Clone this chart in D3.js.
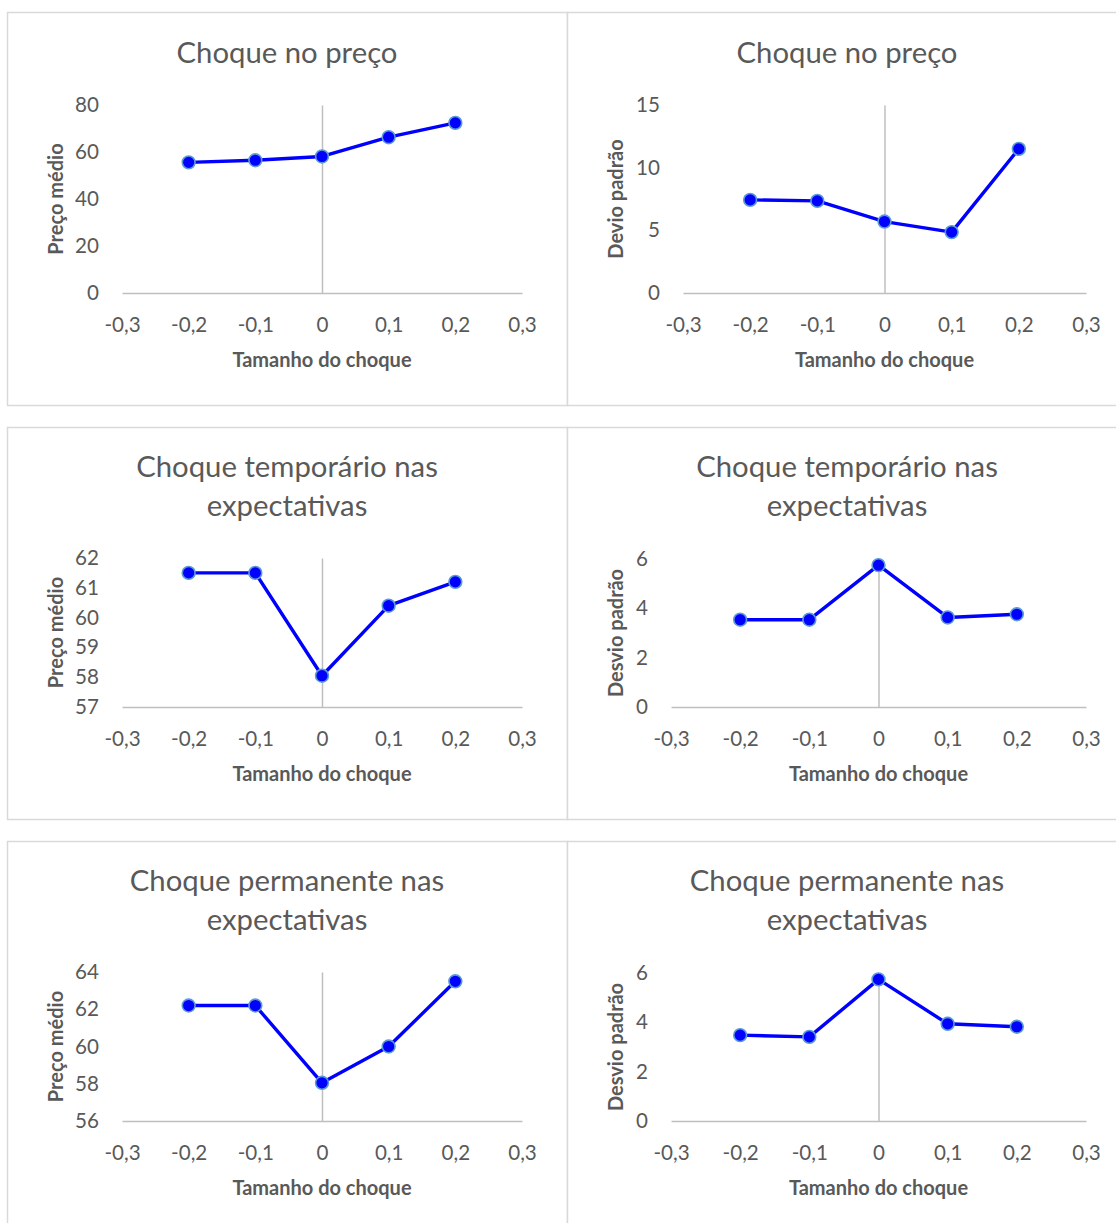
<!DOCTYPE html>
<html>
<head>
<meta charset="utf-8">
<script src="https://cdn.jsdelivr.net/npm/d3@7"></script>
<style>
  html, body { margin: 0; padding: 0; background: #fff; }
  svg { display: block; }
  text { font-family: Lato, "Open Sans", sans-serif; fill: #595959; }
</style>
</head>
<body>
<svg id="chart" width="1116" height="1223"></svg>
<script>
// ---- data ----
const shockSizes = [-0.2, -0.1, 0, 0.1, 0.2];
const xTickValues = [-0.3, -0.2, -0.1, 0, 0.1, 0.2, 0.3];

const precoChoquePreco = [55.6, 56.5, 58.1, 66.3, 72.4];
const devioChoquePreco = [7.43, 7.35, 5.7, 4.86, 11.5];
const precoTemporario = [61.5, 61.5, 58.05, 60.4, 61.2];
const devioTemporario = [3.54, 3.54, 5.75, 3.63, 3.76];
const precoPermanente = [62.2, 62.2, 58.05, 60.0, 63.5];
const devioPermanente = [3.48, 3.41, 5.74, 3.94, 3.82];

const yTicksPrecoChoque = [0, 20, 40, 60, 80];
const yTicksDevioChoque = [0, 5, 10, 15];
const yTicksPrecoTemp = [57, 58, 59, 60, 61, 62];
const yTicksDevio6 = [0, 2, 4, 6];
const yTicksPrecoPerm = [56, 58, 60, 62, 64];

const titleChoquePreco = ["Choque no preço"];
const titleTemporario = ["Choque temporário nas", "expectativas"];
const titlePermanente = ["Choque permanente nas", "expectativas"];
const yLabelPreco = "Preço médio";
const yLabelDevio = "Desvio padrão";
const yLabelDevioTop = "Devio padrão";
const xLabel = "Tamanho do choque";

// ---- layout ----
const svg = d3.select("#chart");
const fmt = v => (Math.abs(v) < 1e-9 ? "0" : String(+v.toFixed(1)).replace(".", ","));

const panels = [
  { box: [7, 12, 560, 393], plot: [122, 105, 522, 293], title: titleChoquePreco, titleY: [53],
    yLabel: yLabelPreco, yLabelX: 56, values: precoChoquePreco, yTicks: yTicksPrecoChoque },
  { box: [567, 12, 564, 393], plot: [683, 105, 1086, 293], title: titleChoquePreco, titleY: [53],
    yLabel: yLabelDevioTop, yLabelX: 616, values: devioChoquePreco, yTicks: yTicksDevioChoque },
  { box: [7, 427, 560, 392], plot: [122, 558, 522, 707], title: titleTemporario, titleY: [467, 506],
    yLabel: yLabelPreco, yLabelX: 56, values: precoTemporario, yTicks: yTicksPrecoTemp },
  { box: [567, 427, 564, 392], plot: [671, 559, 1086, 707], title: titleTemporario, titleY: [467, 506],
    yLabel: yLabelDevio, yLabelX: 616, values: devioTemporario, yTicks: yTicksDevio6 },
  { box: [7, 841, 560, 400], plot: [122, 972, 522, 1121], title: titlePermanente, titleY: [881, 920],
    yLabel: yLabelPreco, yLabelX: 56, values: precoPermanente, yTicks: yTicksPrecoPerm },
  { box: [567, 841, 564, 400], plot: [671, 973, 1086, 1121], title: titlePermanente, titleY: [881, 920],
    yLabel: yLabelDevio, yLabelX: 616, values: devioPermanente, yTicks: yTicksDevio6 }
];

panels.forEach(p => {
  const [bx, by, bw, bh] = p.box;
  const [x0, y0, x1, y1] = p.plot;
  const g = svg.append("g");

  g.append("rect").attr("x", bx + 0.5).attr("y", by + 0.5).attr("width", bw).attr("height", bh)
    .attr("fill", "#fff").attr("stroke", "#d9d9d9").attr("stroke-width", 1.5);

  const x = d3.scaleLinear().domain([-0.3, 0.3]).range([x0, x1]);
  const y = d3.scaleLinear().domain([p.yTicks[0], p.yTicks[p.yTicks.length - 1]]).range([y1, y0]);

  // title
  p.title.forEach((line, i) => {
    g.append("text").attr("x", bx + 280).attr("y", p.titleY[i]).attr("dy", "0.35em")
      .attr("text-anchor", "middle").attr("font-size", 29.3).text(line);
  });

  // x axis (horizontal line at min y)
  const xAxis = d3.axisBottom(x).tickValues(xTickValues).tickFormat(fmt).tickSize(0).tickPadding(24);
  const xg = g.append("g").attr("transform", `translate(0,${y1})`).call(xAxis);
  xg.select(".domain").attr("stroke", "#bfbfbf").attr("stroke-width", 1.5);
  xg.selectAll("text").attr("font-size", 20.6).attr("fill", "#595959").attr("font-family", "Lato");

  // vertical axis line at x = 0
  const yAxisLine = d3.axisLeft(y).tickValues([]).tickSize(0);
  const yg = g.append("g").attr("transform", `translate(${x(0)},0)`).call(yAxisLine);
  yg.select(".domain").attr("stroke", "#bfbfbf").attr("stroke-width", 1.5);

  // y tick labels at low position
  const yLab = d3.axisLeft(y).tickValues(p.yTicks).tickFormat(d3.format("d")).tickSize(0).tickPadding(23);
  const yl = g.append("g").attr("transform", `translate(${x0},0)`).call(yLab);
  yl.select(".domain").remove();
  yl.selectAll("text").attr("font-size", 20.6).attr("fill", "#595959").attr("font-family", "Lato");

  // axis titles
  g.append("text").attr("x", (x0 + x1) / 2).attr("y", y1 + 67).attr("dy", "0.35em")
    .attr("text-anchor", "middle").attr("font-size", 20).attr("font-weight", "bold").text(xLabel);
  g.append("text").attr("transform", `translate(${p.yLabelX},${(y0 + y1) / 2}) rotate(-90)`)
    .attr("dy", "0.35em").attr("text-anchor", "middle").attr("font-size", 20)
    .attr("font-weight", "bold").text(p.yLabel);

  // line + markers
  const pts = shockSizes.map((s, i) => [s, p.values[i]]);
  g.append("path").datum(pts)
    .attr("d", d3.line().x(d => x(d[0])).y(d => y(d[1])))
    .attr("fill", "none").attr("stroke", "#0000ff").attr("stroke-width", 3.4)
    .attr("stroke-linejoin", "round");
  g.selectAll("circle.m").data(pts).join("circle").attr("class", "m")
    .attr("cx", d => x(d[0])).attr("cy", d => y(d[1])).attr("r", 6.4)
    .attr("fill", "#0000ff").attr("stroke", "#5b9bd5").attr("stroke-width", 1.6);
});
</script>
</body>
</html>
